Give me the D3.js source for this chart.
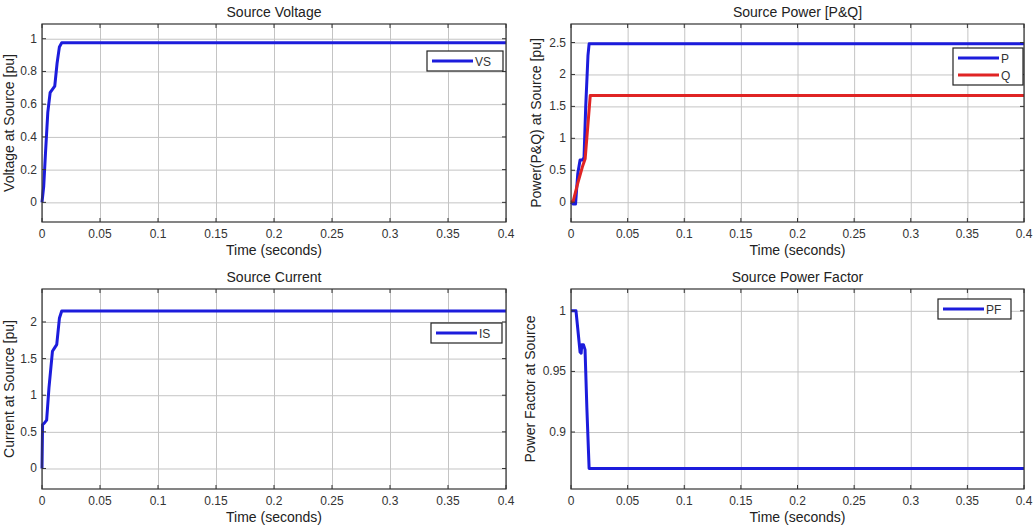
<!DOCTYPE html>
<html>
<head>
<meta charset="utf-8">
<script src="https://cdn.jsdelivr.net/npm/d3@7"></script>
<style>
  body { margin: 0; background: #fff; }
  svg { font-family: "Liberation Sans", Arial, sans-serif; }
  .grid line { stroke: #c4c4c4; stroke-width: 1; }
  .grid path { display: none; }
  .tick-lbl text { fill: #333; font-size: 12px; }
</style>
</head>
<body>
<div id="chart"></div>
<script>

// time axis ticks shared by all four plots
const timeTicks = [0, 0.05, 0.1, 0.15, 0.2, 0.25, 0.3, 0.35, 0.4]

// source voltage
const vsTime = [0, 0.0015, 0.003, 0.005, 0.007, 0.009, 0.011, 0.013, 0.015, 0.017, 0.4]
const vsVals = [0, 0.1, 0.3, 0.55, 0.67, 0.69, 0.71, 0.85, 0.95, 0.975, 0.975]

// source power P and Q
const pTime = [0, 0.002, 0.004, 0.006, 0.008, 0.010, 0.0115, 0.013, 0.015, 0.016, 0.4]
const pVals = [0, -0.03, -0.03, 0.45, 0.66, 0.66, 0.70, 1.5, 2.3, 2.48, 2.48]
const qTime = [0, 0.002, 0.006, 0.010, 0.0125, 0.017, 0.4]
const qVals = [0, 0.02, 0.3, 0.55, 0.68, 1.67, 1.67]

// source current
const isTime = [0, 0.0005, 0.002, 0.004, 0.006, 0.009, 0.011, 0.0127, 0.015, 0.017, 0.4]
const isVals = [0, 0.6, 0.62, 0.66, 1.1, 1.6, 1.65, 1.69, 2.05, 2.15, 2.15]

// source power factor
const pfTime = [0, 0.0044, 0.006, 0.008, 0.009, 0.0095, 0.011, 0.0124, 0.014, 0.016, 0.4]
const pfVals = [1, 1, 0.985, 0.966, 0.965, 0.972, 0.972, 0.968, 0.92, 0.87, 0.87]

const vTicks = [0, 0.2, 0.4, 0.6, 0.8, 1]
const pqTicks = [0, 0.5, 1, 1.5, 2, 2.5]
const iTicks = [0, 0.5, 1, 1.5, 2]
const pfTicks = [0.9, 0.95, 1]

const BLUE = "#1c1cdc", RED = "#e02424"

const svg = d3.select("#chart").append("svg")
    .attr("width", 1034)
    .attr("height", 527)

function zip(t, v) { return t.map((d, i) => ({ t: d, v: v[i] })) }

function panel(cfg) {
    const w = cfg.right - cfg.left, h = cfg.bottom - cfg.top
    const g = svg.append("g").attr("transform", `translate(${cfg.left},${cfg.top})`)

    let x = d3.scaleLinear().domain([0, 0.4]).range([0, w])
    let y = d3.scaleLinear().domain(cfg.yDomain).range([h, 0])

    // grid
    g.append("g").attr("class", "grid")
        .attr("transform", `translate(0,${h})`)
        .call(d3.axisBottom(x).tickValues(timeTicks).tickSize(-h).tickFormat(""))
    g.append("g").attr("class", "grid")
        .call(d3.axisLeft(y).tickValues(cfg.yTicks).tickSize(-w).tickFormat(""))

    // lines
    const line = d3.line().x(d => x(d.t)).y(d => y(d.v))
    cfg.series.forEach(s => {
        g.append("path")
            .datum(zip(s.t, s.v))
            .attr("fill", "none")
            .attr("stroke", s.color)
            .attr("stroke-width", 3)
            .attr("stroke-linejoin", "round")
            .attr("d", line)
    })

    // box
    g.append("rect").attr("width", w).attr("height", h)
        .attr("fill", "none").attr("stroke", "#333").attr("stroke-width", 1.2)

    // inward ticks on all sides
    const tk = 4
    timeTicks.forEach(t => {
        g.append("line").attr("x1", x(t)).attr("x2", x(t)).attr("y1", h).attr("y2", h - tk).attr("stroke", "#333")
        g.append("line").attr("x1", x(t)).attr("x2", x(t)).attr("y1", 0).attr("y2", tk).attr("stroke", "#333")
    })
    cfg.yTicks.forEach(v => {
        g.append("line").attr("x1", 0).attr("x2", tk).attr("y1", y(v)).attr("y2", y(v)).attr("stroke", "#333")
        g.append("line").attr("x1", w).attr("x2", w - tk).attr("y1", y(v)).attr("y2", y(v)).attr("stroke", "#333")
    })

    // tick labels
    const lx = g.append("g").attr("class", "tick-lbl")
    lx.selectAll(".xl").data(timeTicks).join("text")
        .attr("x", d => x(d)).attr("y", h + 16)
        .attr("text-anchor", "middle")
        .text(d => d3.format("~g")(d))
    lx.selectAll(".yl").data(cfg.yTicks).join("text")
        .attr("x", -5).attr("y", d => y(d) + 4)
        .attr("text-anchor", "end")
        .text(d => d3.format("~g")(d))

    // titles
    g.append("text").attr("x", w / 2).attr("y", -7)
        .attr("text-anchor", "middle").attr("font-size", 14).attr("fill", "#222")
        .text(cfg.title)
    g.append("text").attr("x", w / 2).attr("y", h + 33)
        .attr("text-anchor", "middle").attr("font-size", 14).attr("fill", "#222")
        .text("Time (seconds)")
    g.append("text")
        .attr("transform", `translate(${cfg.yLabelX},${h / 2}) rotate(-90)`)
        .attr("text-anchor", "middle").attr("font-size", 14).attr("fill", "#222")
        .text(cfg.yLabel)

    // legend
    const lg = g.append("g").attr("transform", `translate(${cfg.legend[0] - cfg.left},${cfg.legend[1] - cfg.top})`)
    const lw = cfg.legendW, rowH = 17
    lg.append("rect").attr("width", lw).attr("height", rowH * cfg.series.length + 3)
        .attr("fill", "#fff").attr("stroke", "#222").attr("stroke-width", 1.2)
    cfg.series.forEach((s, i) => {
        const cy = 10 + i * rowH
        lg.append("line").attr("x1", 5).attr("x2", 46).attr("y1", cy).attr("y2", cy)
            .attr("stroke", s.color).attr("stroke-width", 3)
        lg.append("text").attr("x", 48).attr("y", cy + 4.5).attr("font-size", 12).attr("fill", "#333")
            .text(s.name)
    })
}

panel({
    left: 42, top: 24, right: 506, bottom: 222,
    yDomain: [-0.12, 1.09], yTicks: vTicks,
    title: "Source Voltage", yLabel: "Voltage at Source [pu]", yLabelX: -28,
    legend: [427, 51], legendW: 76,
    series: [{ name: "VS", t: vsTime, v: vsVals, color: BLUE }]
})

panel({
    left: 571, top: 24, right: 1024, bottom: 222,
    yDomain: [-0.31, 2.79], yTicks: pqTicks,
    title: "Source Power [P&Q]", yLabel: "Power(P&Q) at Source [pu]", yLabelX: -30,
    legend: [953, 48], legendW: 70,
    series: [
        { name: "P", t: pTime, v: pVals, color: BLUE },
        { name: "Q", t: qTime, v: qVals, color: RED }
    ]
})

panel({
    left: 42, top: 289, right: 506, bottom: 489,
    yDomain: [-0.28, 2.45], yTicks: iTicks,
    title: "Source Current", yLabel: "Current at Source [pu]", yLabelX: -28,
    legend: [431, 323], legendW: 71,
    series: [{ name: "IS", t: isTime, v: isVals, color: BLUE }]
})

panel({
    left: 571, top: 289, right: 1024, bottom: 489,
    yDomain: [0.853, 1.018], yTicks: pfTicks,
    title: "Source Power Factor", yLabel: "Power Factor at Source", yLabelX: -36,
    legend: [938, 299], legendW: 73,
    series: [{ name: "PF", t: pfTime, v: pfVals, color: BLUE }]
})

</script>
</body>
</html>
